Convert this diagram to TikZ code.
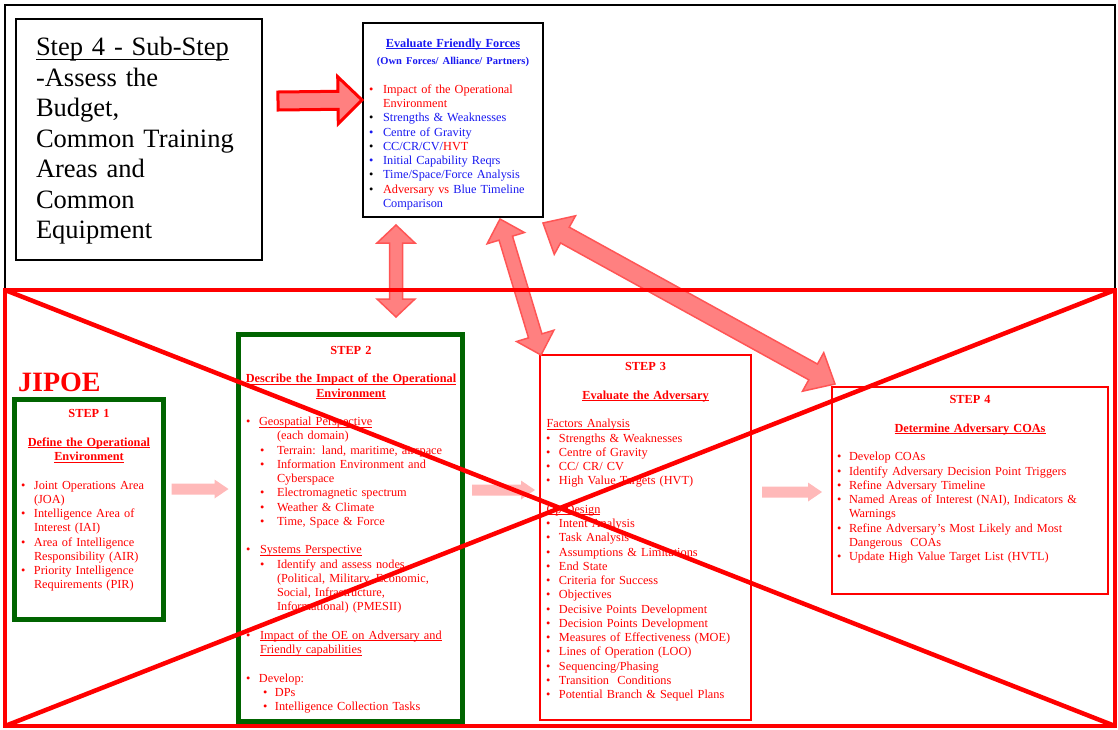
\documentclass[tikz,border=0pt]{standalone}
\usepackage{fontspec}
\setmainfont{Liberation Serif}
\usetikzlibrary{calc}

\definecolor{jgreen}{RGB}{0,100,0}
\definecolor{ffblue}{RGB}{25,25,240}
\definecolor{linkfill}{RGB}{255,128,128}
\definecolor{linkline}{RGB}{255,85,85}
\definecolor{flowpink}{RGB}{255,185,185}

% text helpers
\newcommand\bodyfont{\fontsize{12.3}{14.25}\selectfont}
\newcommand\undlx[3]{\setbox0\hbox{#3}\rlap{\rule[-#1]{\wd0}{#2}}\box0}
\newcommand\undl[1]{\undlx{1.8pt}{0.8pt}{#1}}
% \itm[bullet]{bullet indent}{text indent}{text}
\newcommand\itm[4][\textbullet]{\par\leftskip=#2pt\relax\hangindent=\dimexpr#3pt-#2pt\relax\hangafter=1\noindent\makebox[\dimexpr#3pt-#2pt\relax][l]{#1}#4}
\newcommand\pline[2]{\par\leftskip=#1pt\relax\noindent #2}
\newcommand\blankline{\par\leftskip=0pt\noindent\mbox{}}
\newcommand\ctr[1]{\par{\centering #1\par}}

% fat double-headed arrow: from, to, shaft half width, head half width, head length
\newcommand\fatdouble[6]{%
  \path[#1] (#2)
    -- ($(#2)!#6!(#3)!#5!90:(#3)$)
    -- ($(#2)!#6!(#3)!#4!90:(#3)$)
    -- ($(#3)!#6!(#2)!#4!-90:(#2)$)
    -- ($(#3)!#6!(#2)!#5!-90:(#2)$)
    -- (#3)
    -- ($(#3)!#6!(#2)!#5!90:(#2)$)
    -- ($(#3)!#6!(#2)!#4!90:(#2)$)
    -- ($(#2)!#6!(#3)!#4!-90:(#3)$)
    -- ($(#2)!#6!(#3)!#5!-90:(#3)$)
    -- cycle;}
% fat single arrow: from, to, shaft half width, head half width, head length
\newcommand\fatsingle[6]{%
  \path[#1] ($(#2)!#4!90:(#3)$)
    -- ($(#3)!#6!(#2)!#4!-90:(#2)$)
    -- ($(#3)!#6!(#2)!#5!-90:(#2)$)
    -- (#3)
    -- ($(#3)!#6!(#2)!#5!90:(#2)$)
    -- ($(#3)!#6!(#2)!#4!90:(#2)$)
    -- ($(#2)!#4!-90:(#3)$)
    -- cycle;}

\tikzset{
  txt/.style={anchor=north west, inner sep=0pt, outer sep=0pt, align=left, font=\bodyfont, text=red},
  greenbox/.style={draw=jgreen, line width=5pt, inner sep=0pt, outer sep=0pt, anchor=north west},
  redbox/.style={draw=red, line width=1.3pt, inner sep=0pt, outer sep=0pt, anchor=north west},
  blackbox/.style={draw=black, line width=1.5pt, inner sep=0pt, outer sep=0pt, anchor=north west},
  linkarrow/.style={fill=linkfill, draw=linkline, line width=1.5pt, line join=miter},
  flowarrow/.style={fill=flowpink},
  pointer/.style={fill=linkfill, draw=red, line width=3pt, line join=miter},
  cross/.style={draw=red, line width=4.5pt},
}

\begin{document}
\begin{tikzpicture}[x=1pt,y=-1pt]
\useasboundingbox (0,0) rectangle (1118,729);

% outer frame
\draw[line width=1.5pt] (5,5) rectangle (1115,726);

% sub-step note
\node[blackbox, minimum width=246pt, minimum height=241pt] (sub) at (16,19) {};
\node[txt, text=black, text width=222pt, font=\fontsize{26.5}{30.5}\selectfont] (subtxt) at (36,34.5)
  {\strut\undlx{4.5pt}{1.3pt}{Step 4 - Sub-Step}\newline -Assess the\newline Budget,\newline Common Training\newline Areas and\newline Common\newline Equipment\par};

% friendly forces
\node[blackbox, minimum width=180pt, minimum height=194pt] (ff) at (363,23) {};
\draw[line width=2.6pt, dash pattern=on 1.6pt off 1pt] (ff.north east) -- (ff.south east);
\node[txt, text=ffblue, text width=180pt] (fftxt) at (363,33) {%
\ctr{\strut\textbf{\undl{Evaluate Friendly Forces}}}
\par{\centering\fontsize{10.5}{17}\selectfont\textbf{(Own Forces/ Alliance/ Partners)}\par}
\vskip 14.75pt
\itm[\textcolor{red}{\textbullet}]{6}{20}{\textcolor{red}{Impact of the Operational\newline Environment}}
\itm[\textcolor{black}{\textbullet}]{6}{20}{Strengths \& Weaknesses}
\itm{6}{20}{Centre of Gravity}
\itm[\textcolor{black}{\textbullet}]{6}{20}{CC/CR/CV/\textcolor{red}{HVT}}
\itm{6}{20}{Initial Capability Reqrs}
\itm[\textcolor{black}{\textbullet}]{6}{20}{Time/Space/Force Analysis}
\itm[\textcolor{black}{\textbullet}]{6}{20}{\textcolor{red}{Adversary vs} Blue Timeline\newline Comparison}\par};

% title
\node[anchor=base west, inner sep=0pt, text=red, font=\fontsize{28}{32}\selectfont\bfseries] (jipoe) at (18,391) {JIPOE};

% step 1
\node[greenbox, minimum width=149.5pt, minimum height=220pt] (s1) at (14,399) {};
\node[txt, text width=152pt] (s1txt) at (13,403.5) {%
\ctr{\strut\textbf{STEP 1}}
\blankline
\ctr{\textbf{\undl{Define the Operational}}}
\ctr{\textbf{\undl{Environment}}}
\blankline
\itm{8}{21}{Joint Operations Area\newline (JOA)}
\itm{8}{21}{Intelligence Area of\newline Interest (IAI)}
\itm{8}{21}{Area of Intelligence\newline Responsibility (AIR)}
\itm{8}{21}{Priority Intelligence\newline Requirements (PIR)}\par};

% step 2
\node[greenbox, minimum width=224pt, minimum height=387pt] (s2) at (238.5,334.5) {};
\node[txt, text width=228pt] (s2txt) at (237,340) {%
\ctr{\strut\textbf{STEP 2}}
\blankline
\ctr{\textbf{\undl{Describe the Impact of the Operational}}}
\ctr{\textbf{\undl{Environment}}}
\blankline
\itm{9}{22}{\undl{Geospatial Perspective}}
\pline{40}{(each domain)}
\itm{23}{40}{Terrain: land, maritime, airspace}
\itm{23}{40}{Information Environment and\newline Cyberspace}
\itm{23}{40}{Electromagnetic spectrum}
\itm{23}{40}{Weather \& Climate}
\itm{23}{40}{Time, Space \& Force}
\blankline
\itm{9}{23}{\undl{Systems Perspective}}
\itm{23}{40}{Identify and assess nodes\newline (Political, Military, Economic,\newline Social, Infrastructure,\newline Informational) (PMESII)}
\blankline
\itm{9}{23}{\undl{Impact of the OE on Adversary and}\newline \undl{Friendly capabilities}}
\blankline
\itm{9}{22}{Develop:}
\itm{26}{38}{DPs}
\itm{26}{38}{Intelligence Collection Tasks}\par};

% step 3
\node[redbox, minimum width=211pt, minimum height=365pt] (s3) at (540,355) {};
\node[txt, text width=211pt] (s3txt) at (540,356.5) {%
\ctr{\strut\textbf{STEP 3}}
\blankline
\ctr{\textbf{\undl{Evaluate the Adversary}}}
\blankline
\pline{6.5}{\undl{Factors Analysis}}
\itm{6}{19}{Strengths \& Weaknesses}
\itm{6}{19}{Centre of Gravity}
\itm{6}{19}{CC/ CR/ CV}
\itm{6}{19}{High Value Targets (HVT)}
\blankline
\pline{6.5}{\undl{Op Design}}
\itm{6}{19}{Intent Analysis}
\itm{6}{19}{Task Analysis}
\itm{6}{19}{Assumptions \& Limitations}
\itm{6}{19}{End State}
\itm{6}{19}{Criteria for Success}
\itm{6}{19}{Objectives}
\itm{6}{19}{Decisive Points Development}
\itm{6}{19}{Decision Points Development}
\itm{6}{19}{Measures of Effectiveness (MOE)}
\itm{6}{19}{Lines of Operation (LOO)}
\itm{6}{19}{Sequencing/Phasing}
\itm{6}{19}{Transition\ \ Conditions}
\itm{6}{19}{Potential Branch \& Sequel Plans}\par};

% step 4
\node[redbox, minimum width=276pt, minimum height=207pt] (s4) at (832,387) {};
\node[txt, text width=276pt] (s4txt) at (832,389.5) {%
\ctr{\strut\textbf{STEP 4}}
\blankline
\ctr{\textbf{\undl{Determine Adversary COAs}}}
\blankline
\itm{5}{17}{Develop COAs}
\itm{5}{17}{Identify Adversary Decision Point Triggers}
\itm{5}{17}{Refine Adversary Timeline}
\itm{5}{17}{Named Areas of Interest (NAI), Indicators \&\newline Warnings}
\itm{5}{17}{Refine Adversary's Most Likely and Most\newline Dangerous\ \ COAs}
\itm{5}{17}{Update High Value Target List (HVTL)}\par};

% flow arrows between the steps
\coordinate (f1a) at ($(s1.north east)+(8,90)$);
\coordinate (f1b) at ($(s2.north west)+(-10,154.5)$);
\coordinate (f2a) at ($(s2.north east)+(9.5,155.5)$);
\coordinate (f2b) at ($(s3.north west)+(-5,135)$);
\coordinate (f3a) at ($(s3.north east)+(11,137)$);
\coordinate (f3b) at ($(s4.north west)+(-10,105)$);
\fatsingle{flowarrow}{f1a}{f1b}{5.5pt}{9.5pt}{14pt}
\fatsingle{flowarrow}{f2a}{f2b}{5.5pt}{9.5pt}{14pt}
\fatsingle{flowarrow}{f3a}{f3b}{5.5pt}{9.5pt}{14pt}

% links to the friendly forces evaluation
\coordinate (l1a) at ($(ff.south west)+(33,8)$);
\coordinate (l1b) at ($(s2.north west)+(157.5,-17.5)$);
\coordinate (l2a) at ($(ff.south west)+(137,2)$);
\coordinate (l2b) at ($(s3.north west)+(1,0)$);
\coordinate (l3a) at ($(ff.south east)+(0,6)$);
\coordinate (l3b) at ($(s4.north west)+(3,-3)$);
\fatdouble{linkarrow}{l1a}{l1b}{6.5pt}{19pt}{18pt}
\fatdouble{linkarrow}{l2a}{l2b}{7pt}{19.5pt}{20pt}
\fatdouble{linkarrow}{l3a}{l3b}{9pt}{22pt}{25pt}

% pointer from the sub-step note
\coordinate (pa) at ($(sub.north east)+(16,82)$);
\coordinate (pb) at ($(ff.north west)+(-1,77)$);
\fatsingle{pointer}{pa}{pb}{9pt}{23.5pt}{24pt}

% crossed-out block
\node[draw=red, line width=4.5pt, minimum width=1110pt, minimum height=436pt, inner sep=0pt, outer sep=0pt, anchor=north west] (veto) at (5,290) {};
\draw[cross] (veto.north west) -- (veto.south east) (veto.south west) -- (veto.north east);
\end{tikzpicture}
\end{document}
